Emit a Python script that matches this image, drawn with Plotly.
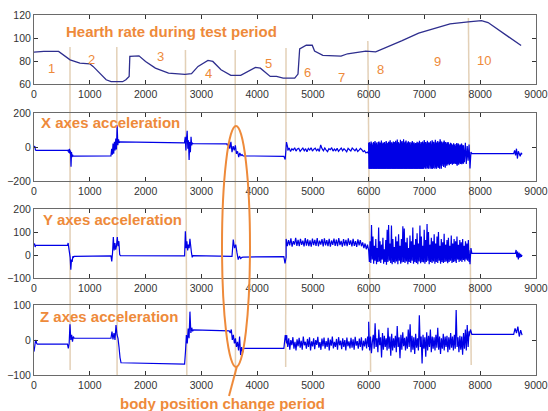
import numpy as np
import plotly.graph_objects as go

# ---------------- data ----------------
HR_X = [0, 176, 441, 529, 647, 823, 1000, 1059, 1176, 1294, 1382, 1588, 1647, 1706, 1718,
        1882, 2000, 2176, 2412, 2706, 2824, 2941, 3118, 3206, 3353, 3529, 3706, 3882, 3970,
        4059, 4235, 4348, 4467, 4674, 4733, 4763, 4881, 4988, 5030, 5178, 5504, 5622, 5948,
        6126, 6304, 6600, 6896, 7193, 7459, 7785, 8022, 8141, 8319, 8496, 8733]
HR_Y = [87.7, 88.3, 88.3, 85.4, 81, 78.2, 77.6, 75.3, 69.5, 63.7, 62, 62, 63.7, 66.6, 84,
        84.5, 79.6, 73.8, 69.5, 68.4, 69, 75.3, 80.5, 79.6, 72.4, 67.5, 67.5, 72.4, 74.4,
        73.8, 66.6, 66.6, 65.1, 65.1, 68.6, 90.6, 93.7, 93.7, 88.6, 84.9, 84.3, 86.3, 88.6,
        88, 91.4, 97.7, 104.3, 108.6, 112.3, 114, 115.1, 113.4, 107.1, 101.4, 93.4]

X_NOISE_4500 = [-20, -6, -27, -10, -18, -4, -24, -12, -8, -26, -16, -6, -22, -10, -28, -8, -18, -4, -24, -13,
                -7, -22, -12, -26, 12, -10, -22, -6, -18, -27, -10, -16, -4, -24, -12, -22, -8, -26, -16, -6,
                -22, -10, -18, -28, -8, -16, -24, -6, -14, -22, -10, -26, -18, -8, -16, -28, -22, -35, -30, -39]
X_TOPS_6000 = [25, 28, 15, 32, 24, 10, 30, 22, 35, 18, 26, 12, 29, 33, 20, 25, 38, 16, 27, 22,
               30, 14, 35, 24, 19, 31, 26, 40, 21, 28, 17, 33, 25, 29, 36, 22, 44, 30, 26, 18,
               42, 28, 35, 20, 45, 24, 30, 38, 16, 27, 34, 22, 30, 12, 26, 35, 20, 28, 14, 24,
               20, 31, 18, 27, 36, 15, 29, 23, 33, 19, 41, 26, 30, 17, 37, 24, 28, 21, 34, 13,
               39, 25, 31, 18, 43, 27, 22, 35, 20, 30, 46, 24, 33, 19, 28, 38, 22, 30, 16, 27,
               30, 18, 10, 25, 20, 15, 8, 22, 12, 5, 18, 24, 10, 20, 6, 15, 12, 20, 8, 10]
X_BOTS_6000 = [-128, -128, -128, -128, -126, -128, -128, -128, -128, -128, -128, -127, -128, -128, -128, -128, -128, -128, -128, -128,
               -128, -128, -127, -128, -128, -128, -128, -128, -126, -128, -128, -128, -128, -128, -128, -127, -128, -128, -128, -128,
               -128, -128, -128, -126, -128, -128, -128, -128, -128, -127, -128, -128, -128, -128, -128, -128, -126, -128, -128, -128,
               -128, -128, -127, -128, -128, -128, -128, -128, -128, -128, -118, -128, -110, -128, -120, -128, -105, -128, -112, -128,
               -128, -125, -100, -128, -118, -128, -110, -122, -120, -128, -105, -128, -112, -98, -118, -100, -122, -96, -110, -100,
               -95, -108, -98, -100, -94, -105, -96, -100, -92, -98, -100, -110, -95, -104, -90, -100, -96, -102, -94, -98]

Y_NOISE_4500 = [70, 38, 65, 42, 72, 36, 60, 45, 75, 40, 66, 38, 70, 44, 62, 37, 73, 41, 68, 39,
                64, 36, 71, 43, 66, 40, 74, 38, 62, 45, 69, 37, 72, 42, 65, 39, 70, 36, 63, 44,
                71, 40, 67, 38, 74, 43, 61, 36, 69, 41, 66, 38, 72, 44, 64, 37, 70, 40, 60, 35,
                68, 42, 65, 38, 55, 30, 50, 25, 45, 20]
Y_NOISE_6000 = [20, -30, 60, -35, 130, -20, 80, -38, 40, -25, 70, -40, 30, -30, 120, -28, 60, -35, 45, -20,
                75, -38, 25, -30, 65, -42, 110, -30, 130, -25, 50, -35, 128, -40, 70, -30, 35, -36, 80, -28,
                60, -40, 90, -25, 40, -38, 70, -32, 125, -30, 115, -35, 55, -28, 75, -40, 30, -30, 85, -35,
                60, -25, 120, -38, 45, -30, 70, -35, 95, -40, 50, -28, 128, -36, 80, -30, 40, -32, 110, -38,
                65, -30, 135, -25, 100, -40, 45, -30, 75, -35, 60, -28, 90, -38, 50, -30, 80, -35, 100, -25,
                40, -38, 70, -30, 55, -35, 92, -30, 45, -28, 65, -36, 75, -30, 40, -25, 85, -35, 50, -30,
                70, -28, 60, -35, 80, -20, 45, -30, 65, -25, 55, -30, 70, -22, 40, -28, 60, -20, 50, -25, 65, -30]

Z_NOISE_4500 = [14, -20, 5, -28, 0, -15, 8, -25, -5, -30, 2, -18, 6, -22, -2, -28, 10, -15, -5, -25,
                3, -20, 8, -30, -4, -18, 5, -26, 0, -14, 9, -22, -6, -28, 4, -18, 7, -25, -3, -20,
                6, -30, 1, -16, 10, -24, -5, -20, 3, -28, 8, -15, -2, -26, 5, -20, 0, -30, 7, -18,
                -4, -24, 6, -22, 2, -28, 9, -16, -3, -25, 4, -20, 8, -30, -2, -18, 5, -24, 10, -20]
Z_NOISE_6000 = [52, -30, 10, -38, -5, 15, -25, 48, -20, 5, -35, 30, -15, 8, -50, 20, -28, 12, -20, 5,
                -30, 35, -25, 10, -45, 18, -30, 5, -22, 12, -35, 40, -20, 8, -52, 15, -28, 22, -18, 6,
                -30, 10, -25, 30, -20, 45, -35, 12, -28, 8, -40, 18, -22, 5, -30, 71, -20, 10, -67, 15,
                -25, 8, -48, 22, -30, 12, -20, 30, -35, 10, -25, 8, -30, 15, -22, 35, -28, 10, -40, 5,
                -25, 18, -30, 10, -20, 12, -35, 8, -28, 20, -22, 10, -30, 15, -25, 86, -20, 8, -35, 12,
                -28, 10, -42, 20, -25, 30, -30, 43, -20, 25]

X_NOISE_6000 = [v for pair in zip(X_TOPS_6000, X_BOTS_6000) for v in pair]

# pieces: (start time, end time, samples spread evenly over that span)
X_PIECES = [
    (0, 40, [0, 5, -18, -20]),
    (40, 600, [-20, -20]),
    (600, 700, [-20, -25, -15, -35, -10, -40, -20, -116, -30, -60, -45, -54]),
    (700, 1380, [-54, -52]),
    (1380, 1540, [-50, -10, -45, 20, -40, 30, -20, 50, -15, 128, 10, 45, 25, 30]),
    (1540, 2700, [30, 24]),
    (2700, 2850, [30, 60, -20, 50, 95, -10, 40, -77, 30, -30, 60, 10, 25, 20]),
    (2850, 3450, [20, 18]),
    (3450, 3750, [20, 10, 25, -10, 30, -30, 5, -20, 10, -40, -25, -60, -35, -50, -45, -52]),
    (3750, 4480, [-52, -55]),
    (4480, 4550, [-55, -74, 29, -5]),
    (4550, 6000, X_NOISE_4500),
    (6000, 7700, X_NOISE_6000),
    (7700, 7850, [10, -90, 25, -100, 5, -80, 15, -127, -30, -39]),
    (7850, 8600, [-39, -39]),
    (8600, 8750, [-39, -20, -50, -10, -68, -25, -40, -55, -35, -43]),
]
Y_PIECES = [
    (0, 30, [42, 50, 35, 42]),
    (30, 600, [42, 42]),
    (600, 720, [42, 52, 30, 10, -10, -64, -20, -30, -6, -10, -6]),
    (720, 1380, [-6, -4]),
    (1380, 1550, [-4, -28, 10, 78, 20, 52, 23, 40, 78, 38, 60, 2, -3]),
    (1550, 2700, [-3, -4]),
    (2700, 2850, [-4, 103, 30, 60, 20, 45, 30, 70, 40, 10, -10, -3]),
    (2850, 3550, [-3, -6]),
    (3550, 3750, [-6, 67, 30, 45, 10, -20, -5, -15, -10, -9]),
    (3750, 4480, [-9, -7]),
    (4480, 4520, [-7, -37, -10]),
    (4520, 6000, Y_NOISE_4500),
    (6000, 7800, Y_NOISE_6000),
    (7800, 7850, [20, -40, 30, 7]),
    (7850, 8630, [7, 7]),
    (8630, 8750, [7, 22, -10, 15, -19, 10, -12, 5, -8, 0]),
]
Z_PIECES = [
    (0, 60, [-33, -20, -5, 0, -10, -12]),
    (60, 600, [-12, -12]),
    (600, 720, [-12, -24, -10, 45, 0, 15, -5, 10, 5]),
    (720, 1380, [5, 5]),
    (1380, 1560, [5, 24, 2, 20, 0, 43, 15, 5, -20, -50, -65]),
    (1560, 2700, [-65, -69]),
    (2700, 2860, [-69, -33, 14, -10, 33, 5, 81, 20, 35, 25, 29]),
    (2860, 3500, [29, 26]),
    (3500, 3760, [26, 20, 30, 0, 15, -10, 5, -20, -5, -30, 10, -43, -20, -35, -24]),
    (3760, 4480, [-24, -24]),
    (4480, 4530, [-24, 14, -10]),
    (4530, 6000, Z_NOISE_4500),
    (6000, 7800, Z_NOISE_6000),
    (7800, 7850, [10, 30, 16]),
    (7850, 8600, [16, 16]),
    (8600, 8750, [16, 33, 20, 38, 10, 28, 14]),
]

PERIOD_LABELS = ["1", "2", "3", "4", "5", "6", "7", "8", "9", "10"]
PERIOD_LABEL_X = [316, 1030, 2268, 3131, 4202, 4899, 5512, 6220, 7238, 8071]
PERIOD_LABEL_Y = [73.6, 81.5, 83.7, 69.3, 78, 69.8, 65.8, 72.2, 79.4, 80.3]

BOUNDARY_TOP_X = [645, 1485, 2715, 3607, 4518, 5985, 7788]
BOUNDARY_BOT_X = [648, 1490, 2740, 3612, 4512, 6035, 7838]

X_TICKS = [0, 1000, 2000, 3000, 4000, 5000, 6000, 7000, 8000, 9000]
PANEL_TITLES = ["Hearth rate during test period", "X axes acceleration",
                "Y axes acceleration", "Z axes acceleration"]
NOTE = "body position change period"

# ---------------- figure ----------------
W, H = 548, 411
ORANGE = "#EE8A3A"
BLUE = "#0000E6"
TAN = "rgba(222,200,170,0.85)"
FONT = "Liberation Sans, Arial, sans-serif"


def build(pieces):
    xs, ys = [], []
    for x0, x1, vals in pieces:
        xs.extend(np.linspace(x0, x1, len(vals)).tolist())
        ys.extend(vals)
    return xs, ys


def py(p):  # pixel row -> paper
    return 1 - p / H


def px(p):
    return p / W


fig = go.Figure()
fig.add_trace(go.Scatter(x=HR_X, y=HR_Y, mode="lines", line=dict(color="#2E2E8E", width=1.3),
                         xaxis="x", yaxis="y", hoverinfo="skip", showlegend=False))
for i, pieces in enumerate([X_PIECES, Y_PIECES, Z_PIECES]):
    xs, ys = build(pieces)
    fig.add_trace(go.Scatter(x=xs, y=ys, mode="lines",
                             line=dict(color=BLUE, width=1.2, simplify=False),
                             xaxis="x%d" % (i + 2), yaxis="y%d" % (i + 2),
                             hoverinfo="skip", showlegend=False))

# solid body of the dense X-acceleration burst (envelope of the same samples)
env_x = np.linspace(6000, 7700, len(X_TOPS_6000)).tolist()
fig.add_trace(go.Scatter(x=env_x, y=X_BOTS_6000, mode="lines", line=dict(width=0, color=BLUE),
                         xaxis="x2", yaxis="y2", hoverinfo="skip", showlegend=False))
fig.add_trace(go.Scatter(x=env_x, y=X_TOPS_6000, mode="lines", line=dict(width=0, color=BLUE),
                         fill="tonexty", fillcolor=BLUE,
                         xaxis="x2", yaxis="y2", hoverinfo="skip", showlegend=False))

x_dom = [px(34), px(536)]
y_doms = [(84, 15), (181, 113), (278, 209), (375, 305)]
y_ranges = [[60, 120], [-200, 200], [-100, 200], [-100, 100]]
y_ticks = [[60, 80, 100, 120], [-200, 0, 200], [-100, 0, 100, 200], [-100, 0, 100]]

axis_common = dict(showline=True, linecolor="#6a6a6a", linewidth=1, mirror="ticks",
                   ticks="inside", ticklen=4, tickcolor="#333", showgrid=False, zeroline=False,
                   tickfont=dict(family=FONT, size=10.5, color="#333"), automargin=False,
                   ticklabeloverflow="allow")

layout = dict(width=W, height=H, margin=dict(l=0, r=0, t=0, b=0),
              paper_bgcolor="white", plot_bgcolor="rgba(0,0,0,0)", template="none",
              showlegend=False)
for i in range(4):
    sx = "" if i == 0 else str(i + 1)
    layout["xaxis" + sx] = dict(domain=x_dom, range=[0, 9000], tickvals=X_TICKS,
                                anchor="y" + sx, **axis_common)
    b, t = y_doms[i]
    layout["yaxis" + sx] = dict(domain=[py(b), py(t)], range=y_ranges[i], tickvals=y_ticks[i],
                                anchor="x" + sx, **axis_common)
fig.update_layout(**layout)

# boundary lines between periods
top_px = [47, 47, 50, 50, 48, 41, 18]
bot_px = [370, 376, 375, 376, 367, 372, 365]
for xt, xb, tp, bp in zip(BOUNDARY_TOP_X, BOUNDARY_BOT_X, top_px, bot_px):
    fig.add_shape(type="line", xref="x", yref="paper", x0=xt, x1=xb, y0=py(tp), y1=py(bp),
                  line=dict(color=TAN, width=1.5), layer="below")

# ellipse and pointer
fig.add_shape(type="circle", xref="paper", yref="paper", x0=px(222), x1=px(250),
              y0=py(367), y1=py(126), line=dict(color=ORANGE, width=2))
fig.add_shape(type="line", xref="paper", yref="paper", x0=px(237), y0=py(366),
              x1=px(229), y1=py(396), line=dict(color=ORANGE, width=2))

# period numbers
for lab, lx, ly in zip(PERIOD_LABELS, PERIOD_LABEL_X, PERIOD_LABEL_Y):
    fig.add_annotation(x=lx, y=ly, xref="x", yref="y", text=lab, showarrow=False,
                       font=dict(family=FONT, size=13, color=ORANGE))

title_pos = [(64, 31), (39, 123), (41, 219), (38, 316)]
for txt, (tx, ty) in zip(PANEL_TITLES, title_pos):
    fig.add_annotation(x=px(tx), y=py(ty), xref="paper", yref="paper", text="<b>%s</b>" % txt,
                       showarrow=False, xanchor="left", yanchor="middle",
                       font=dict(family=FONT, size=15, color=ORANGE))
fig.add_annotation(x=px(222), y=py(403), xref="paper", yref="paper", text="<b>%s</b>" % NOTE,
                   showarrow=False, xanchor="center", yanchor="middle",
                   font=dict(family=FONT, size=15, color=ORANGE))

fig.write_html("out.html", config={"displayModeBar": False},
               post_script="document.body.style.margin='0';document.body.style.overflow='hidden';")
